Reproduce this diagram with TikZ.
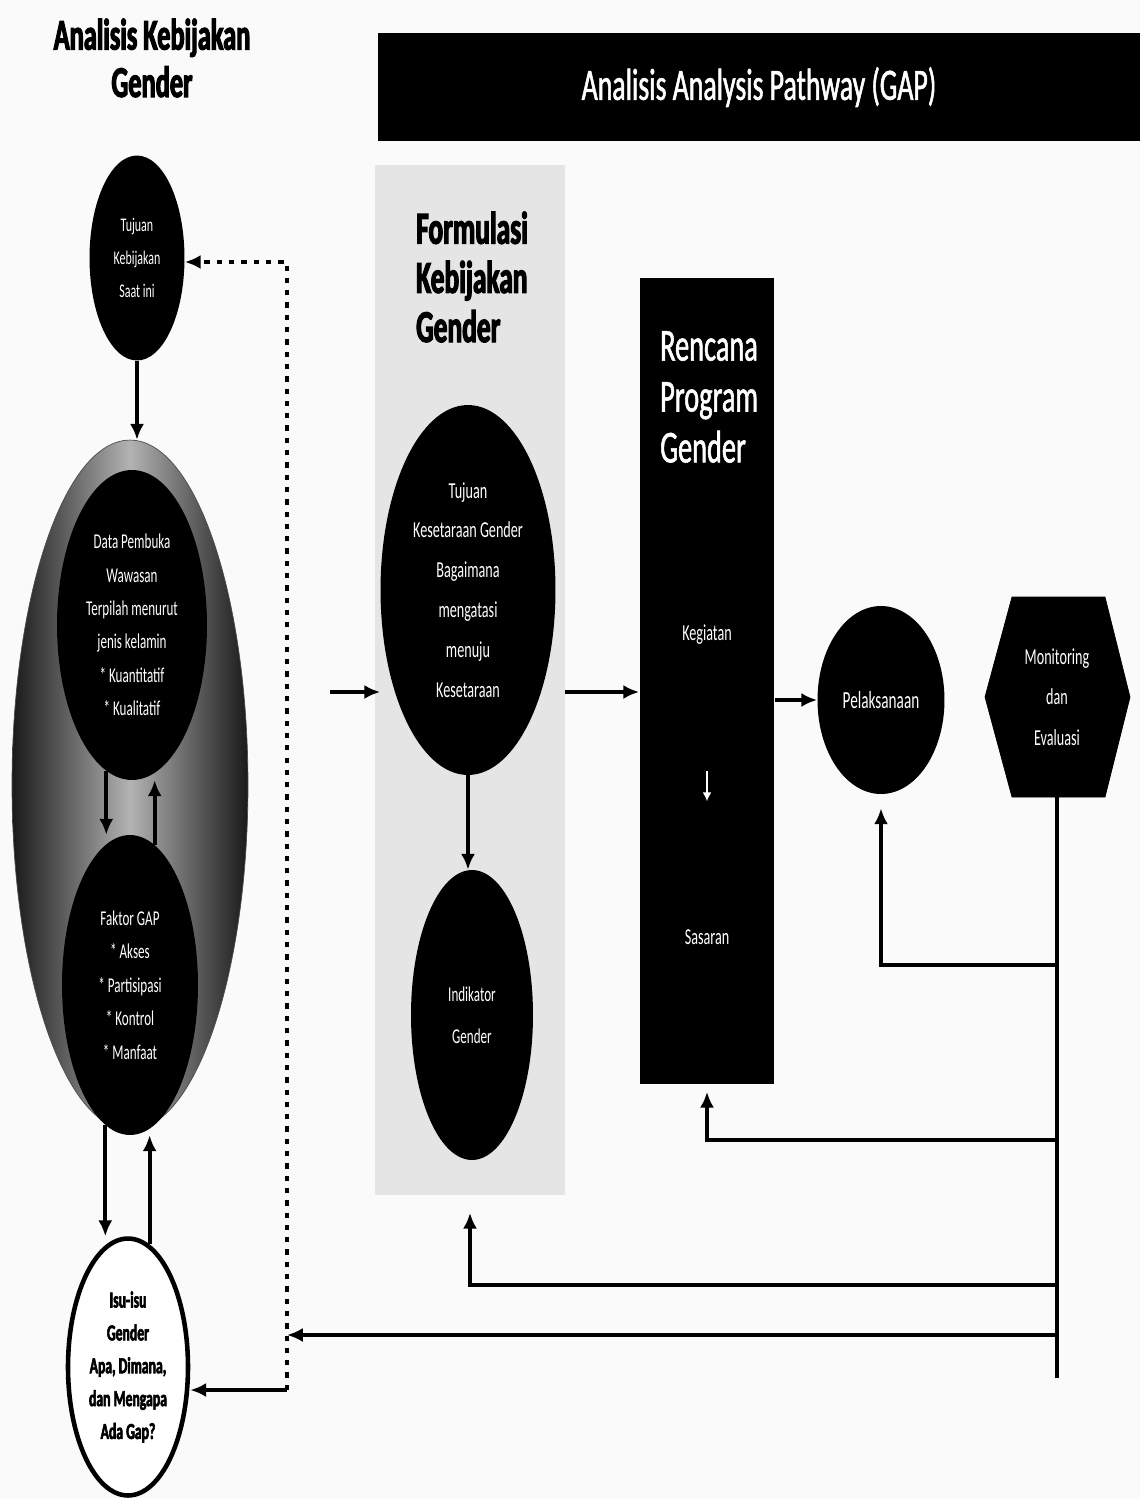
\documentclass[tikz,border=0pt]{standalone}
\usepackage{fontspec}
\setmainfont{Carlito}
\newfontfamily\cond{Carlito}[FakeStretch=0.62]
\newfontfamily\semi{Carlito}[FakeStretch=0.62,FakeBold=1.2]
\newfontfamily\heavy{Carlito}[FakeStretch=0.6,BoldFeatures={FakeBold=2.5}]
\usetikzlibrary{arrows.meta,calc,positioning,shapes.geometric}
\tikzset{
	blob/.style={ellipse, fill=black, text=white, inner sep=0pt, align=center},
	arr/.style={line width=2.4pt, -{Latex[length=9pt,width=8pt]}},
	dots/.style={line width=2pt, dash pattern=on 3pt off 4pt},
}
\def\fs#1#2{\fontsize{#1}{#2}\selectfont}

\begin{document}
\begin{tikzpicture}[x=0.02cm, y=-0.02cm]
			%%%%% START %%%%%
			\useasboundingbox (0,0) rectangle (1140,1498);
			\fill[black!2] (0,0) rectangle (1140,1498);
			
			% titles
			\node[font=\heavy\bfseries\fs{25}{27}, align=center] (akg) at (152,58) {Analisis Kebijakan\\Gender};
			\node[fill=black, minimum width=15.24cm, minimum height=2.16cm, inner sep=0pt, text=white, font=\semi\fs{25.5}{28}] (gap) at (759,87) {Analisis Analysis Pathway (GAP)};
			
			% left column
			\node[blob, minimum width=1.9cm, minimum height=4.1cm, font=\cond\fs{11}{19}] (tkb) at (137,258) {Tujuan\\Kebijakan\\Saat ini};
			\node[ellipse, minimum width=4.72cm, minimum height=13.8cm, inner sep=0pt, draw=black!70, left color=black!90, right color=black!90, middle color=black!30] (glow) at (130,785) {};
			\node[blob, minimum width=3cm, minimum height=6.2cm, font=\cond\fs{12}{19}] (dpw) at (132,625) {Data Pembuka\\Wawasan\\Terpilah menurut\\jenis kelamin\\* Kuantitatif\\* Kualitatif};
			\node[blob, minimum width=2.72cm, minimum height=6cm, font=\cond\fs{12}{19}] (fgap) at (130,985) {Faktor GAP\\* Akses\\* Partisipasi\\* Kontrol\\* Manfaat};
			\node[ellipse, draw=black, line width=2.6pt, fill=white, minimum width=2.4cm, minimum height=5.14cm, inner sep=0pt, align=center, font=\heavy\bfseries\fs{13}{18.7}] (isu) at (128,1367) {Isu-isu\\Gender\\Apa, Dimana,\\dan Mengapa\\Ada Gap?};
			
			\draw[arr] (tkb.south) -- (tkb.south |- glow.north);
			\draw[arr] (dpw.-100) -- (dpw.-100 |- fgap.north);
			\draw[arr] (fgap.80) -- (fgap.80 |- dpw.south);
			\draw[arr] (fgap.-100) -- (fgap.-100 |- isu.north);
			\draw[arr] (isu.80) -- (isu.80 |- fgap.south);
			
			% feedback to the left column
			\coordinate (dl1) at (287,1390);
			\coordinate (dl2) at (287,262);
			\draw[dots, -{Latex[length=9pt,width=8pt]}] (dl1) -- (dl2) -- (dl2 -| tkb.east);
			\draw[arr] (dl1) -- (dl1 -| isu.east);
			
			% formulasi
			\node[fill=black!10, minimum width=3.8cm, minimum height=20.6cm, inner sep=0pt] (panel) at (470,680) {};
			\node[anchor=west, align=left, font=\heavy\bfseries\fs{26}{28}] (fkg) at (410,277) {Formulasi\\Kebijakan\\Gender};
			\node[blob, minimum width=3.5cm, minimum height=7.4cm, font=\cond\fs{13}{22.7}] (tks) at (468,590) {Tujuan\\Kesetaraan Gender\\Bagaimana\\mengatasi\\menuju\\Kesetaraan};
			\node[blob, minimum width=2.44cm, minimum height=5.8cm, font=\cond\fs{12}{24}] (ind) at (472,1015) {Indikator\\Gender};
			
			% rencana
			\node[fill=black, minimum width=2.7cm, minimum height=16.14cm, inner sep=0pt] (rpg) at (707,681) {};
			\node[anchor=west, align=left, text=white, font=\semi\fs{26}{29}] (rpgt) at (654,397) {Rencana\\Program\\Gender};
			\node[text=white, font=\cond\fs{13}{16}] (keg) at (707,635) {Kegiatan};
			\node[text=white, font=\cond\fs{13}{16}] (sas) at (707,937) {Sasaran};
			\draw[white, line width=0.6pt, -{Latex[length=5pt,width=5pt]}] ($(keg)!0.45!(sas)$) -- ($(keg)!0.55!(sas)$);
			
			% pelaksanaan, monitoring
			\node[blob, minimum width=2.54cm, minimum height=3.76cm, font=\cond\fs{14}{16}] (pel) at (881,700) {Pelaksanaan};
			\draw[fill=black] (1012,597) -- (1105,597) -- (1130,697) -- (1105,797) -- (1012,797) -- (985,697) -- cycle;
			\node[text=white, align=center, font=\cond\fs{13}{23}] (mon) at (1057,697) {Monitoring\\dan\\Evaluasi};
			
			% main flow
			\coordinate (in) at (330,692);
			\draw[arr] (in) -- (in -| tks.west);
			\draw[arr] (in -| panel.east) -- (in -| rpg.west);
			\draw[arr] (tks.south) -- (tks.south |- ind.north);
			\draw[arr] (rpg.east |- pel) -- (pel.west);
			
			% monitoring lines
			\coordinate (monb) at (1057,797);
			\coordinate (mend) at (1057,1378);
			\coordinate (f1) at (1057,965);
			\coordinate (f2) at (1057,1140);
			\coordinate (f3) at (1057,1285);
			\coordinate (f4) at (1057,1335);
			\draw[line width=2pt] (monb) -- (mend);
			\draw[arr, shorten >=8pt] (f1) -| (pel.south);
			\draw[arr, shorten >=4pt] (f2) -| (rpg.south);
			\draw[arr, shorten >=10pt] (f3) -| (panel.south);
			\draw[arr] (f4) -- (f4 -| dl1);
			%%%%% END %%%%%
\end{tikzpicture}
\end{document}
